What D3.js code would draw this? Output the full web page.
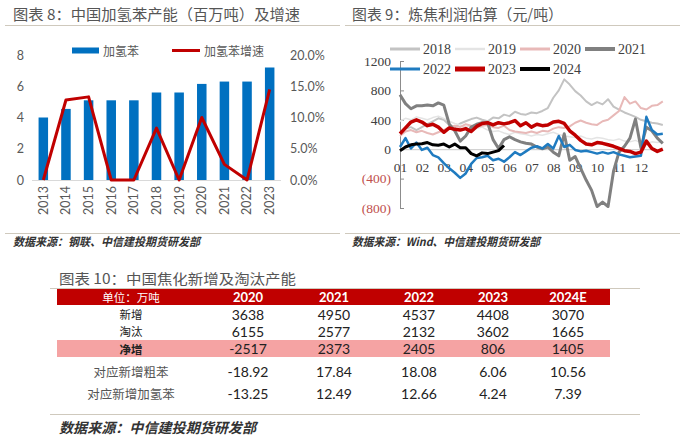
<!DOCTYPE html>
<html><head><meta charset="utf-8">
<script src="https://cdn.jsdelivr.net/npm/d3@7"></script>
<style>
body{margin:0;background:#fff;}
svg{display:block;}
</style></head><body>
<svg id="c" width="700" height="447"></svg>
<script>
// ---------- Chart 8: hydrogenated benzene capacity ----------
const barYears = ["2013","2014","2015","2016","2017","2018","2019","2020","2021","2022","2023"];
const capacity = [4.0, 4.55, 5.1, 5.1, 5.1, 5.6, 5.6, 6.15, 6.3, 6.3, 7.2];
const growth = [0, 12.8, 13.3, 0, 0, 8.3, 0, 10.0, 2.5, 0, 14.5];
const leftTicks = [0, 2, 4, 6, 8];
const rightTicks = [0, 5, 10, 15, 20];

// ---------- Chart 9: coking profit (weekly samples, 4 per month) ----------
const months = ["01","02","03","04","05","06","07","08","09","10","11","12"];
const profitTicks = [-800, -400, 0, 400, 800, 1200];
const profit2018 = [220,280,300,260,300,340,380,420,400,330,300,350,380,410,430,400,380,430,420,470,450,510,480,470,500,490,520,560,700,800,950,880,790,730,650,600,640,610,680,580,540,500,470,440,400,380,360,350,330];
const profit2019 = [380,420,400,440,420,400,430,450,420,380,350,330,300,320,280,300,260,240,250,220,200,230,210,200,180,200,190,210,230,200,180,170,160,180,150,140,160,150,130,120,140,110,100,120,90,80,100,90,100];
const profit2020 = [180,240,260,230,250,220,200,230,260,300,320,300,340,320,300,320,330,300,290,320,260,240,230,220,240,220,250,240,280,300,290,310,360,390,360,340,330,380,400,460,520,710,620,650,560,540,590,600,650];
const profit2021 = [740,620,550,590,590,600,590,630,600,340,250,110,180,300,340,360,360,130,10,130,170,130,100,80,70,30,5,30,-40,-90,210,-150,-100,-260,-420,-560,-780,-720,-780,-300,-40,40,150,410,20,300,250,150,80];
const profit2022 = [30,150,10,90,-10,20,-80,-110,-190,-260,-320,-390,-330,-200,-120,-110,-90,-150,-130,-170,-110,-40,-80,-30,20,40,10,70,10,180,30,60,-10,-30,-20,-40,-60,-40,-60,-40,-70,-90,-110,-100,-90,440,260,200,210];
const profit2023 = [210,290,370,400,370,320,340,300,230,290,270,260,280,240,310,350,360,330,360,345,360,390,320,360,300,340,320,330,370,380,350,250,190,120,70,60,90,80,60,40,10,-20,-30,-60,-40,110,10,-30,0];
const profit2024 = [-20,30,60,70,75,90,60,55,70,30,70,20,20,-60,-90,-50,-60,-40,-20,50];
const seriesNames = ["2018","2019","2020","2021","2022","2023","2024"];

// ---------- Table 10 ----------
const tableHeadLabel = "单位：万吨";
const tableCols = ["2020","2021","2022","2023","2024E"];
const rowLabels = ["新增","淘汰","净增","对应新增粗苯","对应新增加氢苯"];
const rowNew = ["3638","4950","4537","4408","3070"];
const rowRetire = ["6155","2577","2132","3602","1665"];
const rowNet = ["-2517","2373","2405","806","1405"];
const rowCrude = ["-18.92","17.84","18.08","6.06","10.56"];
const rowHydro = ["-13.25","12.49","12.66","4.24","7.39"];

// ================= drawing =================
const svg = d3.select("#c");
const CJK = "'Noto Sans CJK SC', 'Noto Sans', sans-serif";
const NUM = "Lato, 'Open Sans', sans-serif";
const SERIF = "'Liberation Serif', 'DejaVu Serif', serif";

function titleText(x, y, txt, len, size) {
  svg.append("text").attr("x", x).attr("y", y).text(txt)
    .attr("font-family", CJK).attr("font-size", size).attr("fill", "#555")
    .attr("textLength", len).attr("lengthAdjust", "spacingAndGlyphs");
}
function rule(x1, x2, y) {
  svg.append("line").attr("x1", x1).attr("x2", x2).attr("y1", y).attr("y2", y)
    .attr("stroke", "#cfc9bd").attr("stroke-width", 1);
}
function sourceText(x, y, txt, len, size) {
  svg.append("text").attr("x", x).attr("y", y).text(txt)
    .attr("font-family", CJK).attr("font-size", size).attr("font-weight", "bold")
    .attr("font-style", "italic").attr("fill", "#333")
    .attr("textLength", len).attr("lengthAdjust", "spacingAndGlyphs");
}

// titles & rules
titleText(13, 20, "图表 8：中国加氢苯产能（百万吨）及增速", 287, 15);
titleText(352, 20, "图表 9：炼焦利润估算（元/吨）", 211, 15);
rule(5, 340, 25.5);
rule(345, 680, 25.5);
rule(5, 340, 233.5);
rule(345, 680, 233.5);
sourceText(13, 246, "数据来源：钢联、中信建投期货研发部", 187, 11.5);
sourceText(352, 246, "数据来源：Wind、中信建投期货研发部", 188, 11.5);

// ----- left chart -----
const xB = d3.scaleBand().domain(barYears).range([32, 281]).paddingInner(0.58).paddingOuter(0.29);
const yL = d3.scaleLinear().domain([0, 8]).range([180, 55]);
const yR = d3.scaleLinear().domain([0, 20]).range([180, 55]);
const left = svg.append("g");

left.selectAll("rect.bar").data(capacity).join("rect").attr("class", "bar")
  .attr("x", (d, i) => xB(barYears[i])).attr("width", xB.bandwidth())
  .attr("y", d => yL(d)).attr("height", d => yL(0) - yL(d)).attr("fill", "#0070c0");

left.append("line").attr("x1", xB.range()[0]).attr("x2", xB.range()[1])
  .attr("y1", yL(0) + 0.5).attr("y2", yL(0) + 0.5).attr("stroke", "#d9d9d9");

const gLine = d3.line().x((d, i) => xB(barYears[i]) + xB.bandwidth() / 2).y(d => yR(d));
left.append("path").datum(growth).attr("d", gLine).attr("fill", "none")
  .attr("stroke", "#c00000").attr("stroke-width", 3).attr("stroke-linejoin", "round");

const axL = left.append("g").attr("transform", "translate(24,0)")
  .call(d3.axisLeft(yL).tickValues(leftTicks).tickSize(0).tickPadding(0));
const axR = left.append("g").attr("transform", "translate(290,0)")
  .call(d3.axisRight(yR).tickValues(rightTicks).tickSize(0).tickPadding(0).tickFormat(d => d.toFixed(1) + "%"));
const axB = left.append("g").attr("transform", `translate(0,${yL(0)})`)
  .call(d3.axisBottom(xB).tickSize(0));
[axL, axR, axB].forEach(g => {
  g.select(".domain").remove();
  g.selectAll("text").attr("font-family", NUM).attr("font-size", 12.5).attr("fill", "#595959");
});
axB.selectAll("text").attr("transform", "rotate(-90)").attr("text-anchor", "end")
  .attr("x", -6).attr("y", 0).attr("dy", "0.35em");

// legend
left.append("rect").attr("x", 72).attr("y", 47.5).attr("width", 27).attr("height", 6).attr("fill", "#0070c0");
left.append("text").attr("x", 103).attr("y", 55.5).text("加氢苯").attr("font-family", CJK)
  .attr("font-size", 12).attr("fill", "#595959");
left.append("line").attr("x1", 172).attr("x2", 200).attr("y1", 50.5).attr("y2", 50.5)
  .attr("stroke", "#c00000").attr("stroke-width", 3);
left.append("text").attr("x", 204).attr("y", 55.5).text("加氢苯增速").attr("font-family", CJK)
  .attr("font-size", 12).attr("fill", "#595959");

// ----- right chart -----
const xM = d3.scaleLinear().domain([0, 12]).range([400, 662.8]);
const yP = d3.scaleLinear().domain([-800, 1200]).range([208, 61]);
const right = svg.append("g");

const axX = right.append("g").attr("transform", `translate(0,${yP(0)})`)
  .call(d3.axisBottom(xM).tickValues(months.map((m, i) => i)).tickFormat((d, i) => months[i])
    .tickSize(0).tickPadding(13));
axX.select(".domain").attr("stroke", "#c8c8c8");
axX.selectAll("text").attr("font-family", SERIF).attr("font-size", 13.5).attr("fill", "#404040");

const axY = right.append("g").attr("transform", "translate(400,0)")
  .call(d3.axisLeft(yP).tickValues(profitTicks).tickSize(-4).tickSizeOuter(0).tickPadding(9)
    .tickFormat(d => d < 0 ? `(${-d})` : `${d}`));
axY.select(".domain").attr("stroke", "#8c8c8c");
axY.selectAll(".tick line").attr("stroke", "#8c8c8c");
axY.selectAll("text").attr("font-family", SERIF).attr("font-size", 13.5)
  .attr("fill", d => d < 0 ? "#c0504d" : "#404040");

const seriesData = [profit2018, profit2019, profit2020, profit2021, profit2022, profit2023, profit2024];
const seriesStyle = [
  {c: "#c3c3c3", w: 2},
  {c: "#e4e4e4", w: 1.5},
  {c: "#e8b9b8", w: 2},
  {c: "#808080", w: 3},
  {c: "#1f7bc0", w: 2.5},
  {c: "#c00000", w: 3.5},
  {c: "#000000", w: 3}
];
const pLine = d3.line().x((d, i) => xM(i / 4)).y(d => yP(d));
right.selectAll("path.series").data(seriesData).join("path").attr("class", "series")
  .attr("d", pLine).attr("fill", "none")
  .attr("stroke", (d, i) => seriesStyle[i].c).attr("stroke-width", (d, i) => seriesStyle[i].w)
  .attr("stroke-linejoin", "round");

// legend
const legRows = [49, 69], legCols = [390, 455, 520, 585];
const legW = [3, 2.5, 3, 4, 3, 5, 4];
const leg = right.selectAll("g.leg").data(seriesNames).join("g").attr("class", "leg")
  .attr("transform", (d, i) => {
    const r = i < 4 ? 0 : 1, c = i < 4 ? i : i - 4;
    return `translate(${legCols[c]},${legRows[r]})`;
  });
leg.append("line").attr("x1", 0).attr("x2", 30).attr("y1", 0).attr("y2", 0)
  .attr("stroke", (d, i) => seriesStyle[i].c).attr("stroke-width", (d, i) => legW[i]);
leg.append("text").attr("x", 33).attr("y", 4.5).text(d => d)
  .attr("font-family", SERIF).attr("font-size", 14).attr("fill", "#404040");

// ----- table -----
titleText(59, 284, "图表 10：中国焦化新增及淘汰产能", 237, 14);
rule(50, 640, 288.5);
rule(50, 640, 414.5);
sourceText(59, 433, "数据来源：中信建投期货研发部", 197, 14);

const tbl = svg.append("g");
const colX = d3.scaleOrdinal().domain(tableCols).range([248, 334, 419, 493, 568]);
const rowY = d3.scaleOrdinal().domain(rowLabels).range([314, 331, 348.5, 371, 393]);
const labelX = 131;
const CJK_T = 11.5;

tbl.append("rect").attr("x", 57).attr("y", 289).attr("width", 553).attr("height", 16).attr("fill", "#c00000");
tbl.append("rect").attr("x", 57).attr("y", 340).attr("width", 553).attr("height", 17).attr("fill", "#f5a3a3");

tbl.append("text").attr("x", labelX).attr("y", 297).text(tableHeadLabel)
  .attr("text-anchor", "middle").attr("dominant-baseline", "central")
  .attr("font-family", CJK).attr("font-size", CJK_T).attr("fill", "#fff");
tbl.selectAll("text.hd").data(tableCols).join("text").attr("class", "hd")
  .attr("x", d => colX(d)).attr("y", 297).text(d => d)
  .attr("text-anchor", "middle").attr("dominant-baseline", "central")
  .attr("font-family", NUM).attr("font-weight", "bold").attr("font-size", 13).attr("fill", "#fff");

const rows = [rowNew, rowRetire, rowNet, rowCrude, rowHydro];
rows.forEach((vals, r) => {
  const lab = rowLabels[r];
  const bold = r === 2;
  const light = r >= 3;
  tbl.append("text").attr("x", labelX).attr("y", rowY(lab)).text(lab)
    .attr("text-anchor", "middle").attr("dominant-baseline", "central")
    .attr("font-family", CJK).attr("font-size", light ? 12.5 : CJK_T)
    .attr("font-weight", bold ? "bold" : "normal")
    .attr("fill", light ? "#555" : "#222");
  tbl.selectAll(null).data(vals).join("text")
    .attr("x", (d, i) => colX(tableCols[i])).attr("y", rowY(lab)).text(d => d)
    .attr("text-anchor", "middle").attr("dominant-baseline", "central")
    .attr("font-family", NUM).attr("font-size", 14).attr("fill", "#222");
});
</script></body></html>
